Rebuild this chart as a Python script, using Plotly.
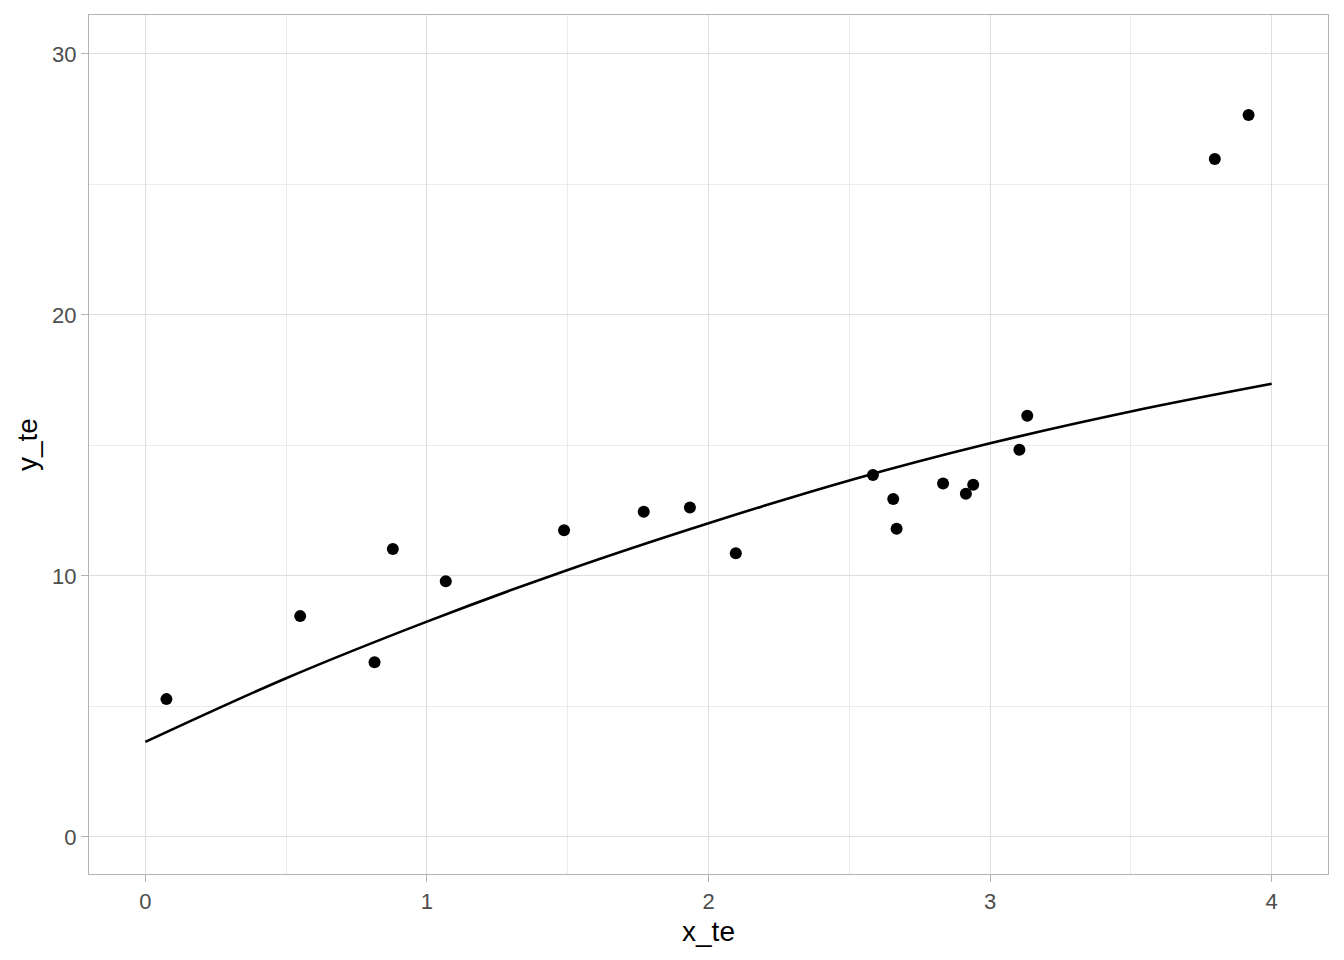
import plotly.graph_objects as go

# observed test points
x_te = [0.075, 0.550, 0.814, 0.879, 1.067, 1.487, 1.770, 1.934, 2.097, 2.584,
        2.656, 2.668, 2.833, 2.914, 2.940, 3.104, 3.132, 3.798, 3.918]
y_te = [5.28, 8.46, 6.69, 11.03, 9.80, 11.75, 12.46, 12.62, 10.87, 13.87,
        12.95, 11.81, 13.54, 13.15, 13.49, 14.83, 16.14, 25.97, 27.66]

# fitted curve
fit_x = [0, 0.5, 1, 1.5, 2, 2.5, 3, 3.5, 4]
fit_y = [3.64, 6.08, 8.25, 10.23, 12.02, 13.66, 15.08, 16.30, 17.36]

fig = go.Figure()

fig.add_trace(go.Scatter(
    x=fit_x, y=fit_y,
    mode='lines',
    line=dict(color='black', width=2.6, shape='spline', smoothing=1.0),
    showlegend=False,
))
fig.add_trace(go.Scatter(
    x=x_te, y=y_te,
    mode='markers',
    marker=dict(color='black', size=12),
    showlegend=False,
))

axis_style = dict(
    showgrid=True,
    gridcolor='#DEDEDE',
    gridwidth=1.3,
    zeroline=False,
    showline=True,
    mirror=True,
    linecolor='#B3B3B3',
    linewidth=1.3,
    ticks='outside',
    ticklen=7,
    tickwidth=1.3,
    tickcolor='#B3B3B3',
    tickfont=dict(family='Liberation Sans, Arial', size=22, color='#4D4D4D'),
)

fig.update_xaxes(
    range=[-0.2, 4.2],
    tick0=0, dtick=1,
    minor=dict(dtick=0.5, showgrid=True, gridcolor='#EBEBEB', gridwidth=0.8),
    title=dict(text='x_te', font=dict(family='Liberation Sans, Arial', size=28, color='black'), standoff=8),
    **axis_style,
)
fig.update_yaxes(
    range=[-1.42, 31.49],
    tick0=0, dtick=10,
    minor=dict(dtick=5, showgrid=True, gridcolor='#EBEBEB', gridwidth=0.8),
    title=dict(text='y_te', font=dict(family='Liberation Sans, Arial', size=28, color='black'), standoff=6),
    **axis_style,
)

fig.update_layout(
    width=1344, height=960,
    plot_bgcolor='white',
    paper_bgcolor='white',
    margin=dict(l=89, r=16, t=15, b=86),
)

fig.write_html("out.html", config={'displayModeBar': False},
               post_script="document.body.style.margin='0';")
